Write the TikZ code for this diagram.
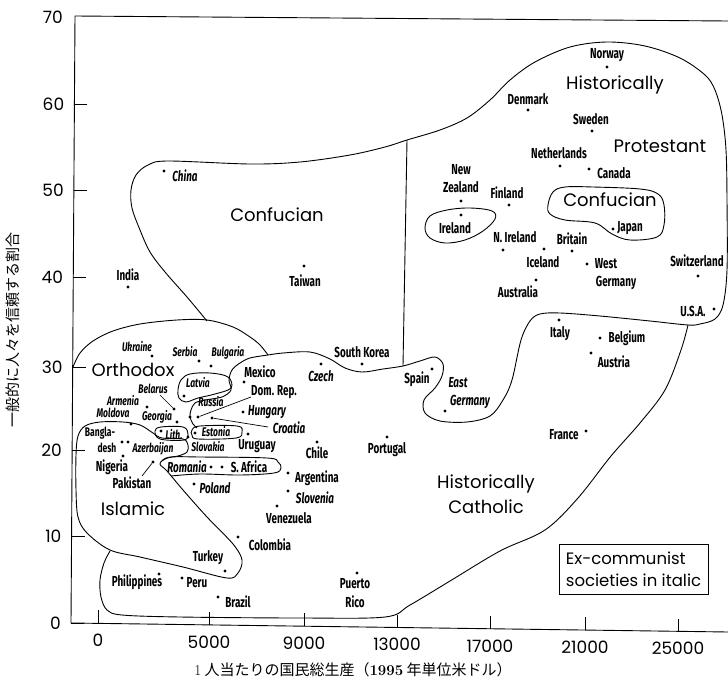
\documentclass[tikz,border=0pt]{standalone}
\usepackage{fontspec}
\newfontfamily\labfont[FakeStretch=0.68]{Fira Sans}
\newfontfamily\regfont{Poppins}
\newfontfamily\jpfont{Noto Sans CJK JP}
\tikzset{
 lab/.style={inner sep=0pt, font=\labfont\bfseries\fontsize{14.5}{15}\selectfont},
 labi/.style={inner sep=0pt, font=\labfont\bfseries\itshape\fontsize{14.5}{15}\selectfont},
 slab/.style={inner sep=0pt, font=\labfont\bfseries\fontsize{12.5}{13}\selectfont},
 slabi/.style={inner sep=0pt, font=\labfont\bfseries\itshape\fontsize{12.5}{13}\selectfont},
 pt/.style={circle, fill=black, inner sep=0pt, minimum size=3.2pt},
 reg/.style={inner sep=0pt, font=\regfont\fontsize{18}{18}\selectfont},
 bnd/.style={line width=0.9pt, line join=round},
 ptr/.style={line width=0.7pt},
 num/.style={inner sep=0pt, font=\regfont\fontsize{17}{17}\selectfont},
 jp/.style={inner sep=0pt, font=\jpfont\fontsize{15}{15}\selectfont},
}
\begin{document}
\begin{tikzpicture}[x=1pt,y=-1pt]
\fill[white] (0,0) rectangle (728,688);
\useasboundingbox (0,0) rectangle (728,688);
% axes
\coordinate (tr) at (728,21);
\coordinate (tl) at (75,16);
\coordinate (bl) at (71,623);
\coordinate (br) at (728,632);
\draw[line width=0.9pt] (tr) -- (tl) -- (bl) -- (br);
\node[num, anchor=east] (y70) at (63,17) {70};
\foreach \v/\yy/\xx in {60/104/74.4, 50/190/73.9, 40/277/73.3, 30/367/72.7, 20/450/72.1, 10/536/71.6, 0/623/71}{
  \draw[line width=0.8pt] (\xx,\yy) -- ++(13,0);
  \node[num, anchor=east] (y\v) at (\xx-10,\yy) {\v};
}
\foreach \v/\xx/\yy in {0/98/623.3, 5000/209/625, 9000/304/626.3, 13000/397/627.6, 17000/490/629, 21000/585/630.3, 25000/678/631.6}{
  \draw[line width=0.8pt] (\xx,\yy) -- ++(0,-13);
  \node[num] (x\v) at (\xx,\yy+17) {\v};
}
\node[jp, rotate=90] (ylab) at (13,330) {一般的に人々を信頼する割合};
\node[jp] (xlab) at (353,670) {{\rmfamily 1} 人当たりの国民総生産（{\rmfamily\bfseries 1995} 年単位米ドル）};

% ---------- boundaries ----------
% outer: Confucian + Protestant + bump + Catholic/Confucian border
\draw[bnd] plot[smooth, tension=0.55] coordinates {
 (207,321) (187,297) (165,272) (150,252) (140,230) (132,208) (131,190) (136,175) (148,165) (168,161)
 (250,164) (300,162) (350,155) (385,147) (407,140) (440,130) (467,118) (490,100) (510,80) (535,62)
 (570,47) (607,42) (645,46) (680,58) (705,75) (715,90) (722,115) (726,150) (727,200) (727,270)
 (723,305) (715,319) (700,324) (688,325) (650,321) (600,316) (560,313) (540,314) (530,321)
 (521,340) (512,380) (503,400) (490,416) (467,422) (440,421) (425,413) (424,400) (435,388)
 (442,376) (443,364) (435,357) (420,361) (403,366) (383,369) (362,372) (345,368) (330,359)
 (310,352) (283,353) (268,355)};
% vertical separator
\coordinate (vs1) at (407,140);
\coordinate (vs2) at (403,366);
\draw[bnd] (vs1) -- (vs2);
% Orthodox top
\draw[bnd] plot[smooth, tension=0.55] coordinates {
 (73,367) (80,353) (93,341) (113,331) (140,324) (177,320) (207,320) (233,327) (250,337) (260,345) (268,355)};
% Mexico blob + Russia tentacle
\draw[bnd] plot[smooth, tension=0.55] coordinates {
 (268,355) (250,358) (240,363) (232,370) (229,380) (231,390) (222,397) (205,400) (195,403) (191,410) (190,417) (193,424) (197,428)};
% Latvia loop
\draw[bnd] plot[smooth cycle, tension=0.6] coordinates {
 (178,390) (181,380) (190,374) (210,373) (228,377) (231,388) (215,394) (198,398) (186,402) (179,398)};
% Estonia loop
\draw[bnd] plot[smooth cycle, tension=0.6] coordinates {
 (192,430) (200,426) (237,426) (242,432) (236,438) (198,439) (192,435)};
% Lith loop
\draw[bnd] plot[smooth cycle, tension=0.6] coordinates {
 (155,431) (161,427) (183,427) (188,434) (184,440) (160,439)};
% Islamic region
\draw[bnd] plot[smooth cycle, tension=0.55] coordinates {
 (110,550) (87,533) (78,517) (76,490) (76,455) (78,436) (85,426) (100,422) (123,422) (140,425)
 (153,433) (162,438) (183,439) (188,445) (187,452) (178,456) (166,458) (160,464) (167,471)
 (183,490) (207,517) (233,544) (242,560) (238,573) (227,578) (183,567) (140,557)};
% Romania loop
\draw[bnd] plot[smooth, tension=0.6] coordinates {
 (162,461) (172,457) (200,457) (267,458) (278,462) (281,468) (274,473) (240,475) (200,474) (171,476)};
% Latin America / Catholic lower border
\draw[bnd] plot[smooth, tension=0.55] coordinates {
 (110,551) (104,563) (100,580) (101,597) (107,610) (122,615) (180,617) (300,618) (385,617)
 (410,605) (450,581) (500,551) (545,530) (578,498) (611,456) (640,423) (665,390) (681,350) (688,325)};
% small Confucian loop
\draw[bnd] plot[smooth cycle, tension=0.6] coordinates {
 (548,205) (553,192) (565,187) (593,187) (640,189) (658,194) (664,205) (664,225) (657,237)
 (630,240) (612,234) (595,223) (565,220) (550,214)};
% Ireland loop
\draw[bnd] plot[smooth cycle, tension=0.6] coordinates {
 (425,228) (430,216) (447,210) (470,208) (492,211) (495,219) (483,231) (465,240) (445,243) (430,238)};

% ---------- region names ----------
\node[reg] (rHist) at (615,85) {Historically};
\node[reg] (rProt) at (660,146) {Protestant};
\node[reg] (rConf2) at (610,200) {Confucian};
\node[reg] (rConf) at (277,215) {Confucian};
\node[reg] (rOrth) at (133,370) {Orthodox};
\node[reg] (rIsl) at (133,509) {Islamic};
\node[reg] (rCat1) at (486,484) {Historically};
\node[reg] (rCat2) at (486,507) {Catholic};
\node[draw, line width=0.8pt, align=left, inner xsep=6pt, inner ysep=4pt,
      font=\regfont\fontsize{16.5}{22}\selectfont, minimum width=149pt, minimum height=50pt]
      (legend) at (633.5,569) {Ex-communist\\societies in italic};

% ---------- Protestant area ----------
\node[lab] (nNorway) at (607,55) {Norway}; \node[pt] (dNorway) at (607,67) {};
\node[lab] (nDenmark) at (528,99) {Denmark}; \node[pt] (dDenmark) at (528,110) {};
\node[lab] (nSweden) at (591,119) {Sweden}; \node[pt] (dSweden) at (592,131) {};
\node[lab] (nNeth) at (559,153) {Netherlands}; \node[pt] (dNeth) at (560,166) {};
\node[lab] (nCanada) at (614,173) {Canada}; \node[pt] (dCanada) at (589,169) {};
\node[lab] (nNew) at (461,170) {New}; \node[lab] (nZeal) at (461,187) {Zealand}; \node[pt] (dNZ) at (461,201) {};
\node[lab] (nFinland) at (507,193) {Finland}; \node[pt] (dFinland) at (509,205) {};
\node[lab] (nIreland) at (455,228) {Ireland}; \node[pt] (dIreland) at (461,215) {};
\node[lab] (nJapan) at (630,228) {Japan}; \node[pt] (dJapan) at (613,229) {};
\node[lab] (nNIre) at (515,237) {N. Ireland}; \node[pt] (dNIre) at (503,250) {};
\node[lab] (nBritain) at (572,239) {Britain}; \node[pt] (dBritain) at (572,251) {};
\node[lab] (nIceland) at (543,262) {Iceland}; \node[pt] (dIceland) at (544,249) {};
\node[lab] (nWest) at (606,264) {West}; \node[lab] (nWGer) at (616,283) {Germany}; \node[pt] (dWGer) at (587,264) {};
\node[lab] (nSwitz) at (697,261) {Switzerland}; \node[pt] (dSwitz) at (698,276) {};
\node[lab] (nAustralia) at (518,292) {Australia}; \node[pt] (dAustralia) at (536,280) {};
\node[lab] (nUSA) at (693,311) {U.S.A.}; \node[pt] (dUSA) at (714,309) {};
% ---------- Catholic right ----------
\node[lab] (nItaly) at (560,334) {Italy}; \node[pt] (dItaly) at (559,320) {};
\node[lab] (nBelgium) at (627,338) {Belgium}; \node[pt] (dBelgium) at (600,338) {};
\node[lab] (nAustria) at (614,362) {Austria}; \node[pt] (dAustria) at (591,353) {};
\node[lab] (nFrance) at (564,435) {France}; \node[pt] (dFrance) at (586,431) {};
\node[lab] (nSpain) at (417,379) {Spain}; \node[pt] (dSpain) at (432,369) {};
\node[labi] (nEast) at (458,383) {East}; \node[labi] (nEGer) at (470,402) {Germany}; \node[pt] (dEGer) at (445,411) {};
\node[lab] (nPortugal) at (387,450) {Portugal}; \node[pt] (dPortugal) at (387,437) {};
\node[lab] (nPuerto) at (355,584) {Puerto}; \node[lab] (nRico) at (355,602) {Rico}; \node[pt] (dPR) at (357,573) {};
% ---------- Confucian ----------
\node[lab] (nSKorea) at (362,352) {South Korea}; \node[pt] (dSKorea) at (362,364) {};
\node[labi] (nCzech) at (321,376) {Czech}; \node[pt] (dCzech) at (321,364) {};
\node[lab] (nTaiwan) at (305,281) {Taiwan}; \node[pt] (dTaiwan) at (304,266) {};
\node[labi] (nChina) at (185,176) {China}; \node[pt] (dChina) at (164,171) {};
\node[lab] (nIndia) at (128,275) {India}; \node[pt] (dIndia) at (128,287) {};
% ---------- Latin America etc ----------
\node[lab] (nChile) at (317,453) {Chile}; \node[pt] (dChile) at (317,442) {};
\node[lab] (nArg) at (317,478) {Argentina}; \node[pt] (dArg) at (288,473) {};
\node[labi] (nSlovenia) at (315,498) {Slovenia}; \node[pt] (dSlovenia) at (288,491) {};
\node[lab] (nVen) at (289,518) {Venezuela}; \node[pt] (dVen) at (277,506) {};
\node[lab] (nCol) at (270,545) {Colombia}; \node[pt] (dCol) at (238,537) {};
\node[lab] (nBrazil) at (238,602) {Brazil}; \node[pt] (dBrazil) at (218,597) {};
\node[lab] (nPeru) at (197,583) {Peru}; \node[pt] (dPeru) at (182,578) {};
\node[lab] (nPhil) at (137,582) {Philippines}; \node[pt] (dPhil) at (159,574) {};
\node[lab] (nTurkey) at (208,558) {Turkey}; \node[pt] (dTurkey) at (225,571) {};
\node[labi] (nPoland) at (215,488) {Poland}; \node[pt] (dPoland) at (194,484) {};
\node[labi] (nRomania) at (187,467) {Romania}; \node[pt] (dRomania) at (211,467) {};
\node[pt] (dSAfr) at (222,467) {}; \node[lab] (nSAfr) at (249,467) {S. Africa};
% ---------- Islamic ----------
\node[lab] (nNigeria) at (112,467) {Nigeria}; \node[pt] (dNigeria) at (123,456) {};
\node[lab] (nPak) at (132,483) {Pakistan}; \node[pt] (dPak) at (153,462) {};
\coordinate (pPak) at (142,476);
\draw[ptr] (pPak) -- (dPak);
\node[slab] (nBang1) at (100,433) {Bangla-}; \node[slab] (nBang2) at (107,448) {desh};
\node[pt] (dBang) at (122,442) {}; \node[pt] (dAzer) at (128,442) {};
\node[slabi] (nAzer) at (153,449) {Azerbaijan};
% ---------- central cluster ----------
\node[lab] (nMexico) at (260,372) {Mexico}; \node[pt] (dMexico) at (244,382) {};
\node[lab] (nDomRep) at (274,392) {Dom. Rep.}; \node[pt] (dDomRep) at (198,417) {};
\coordinate (pDomRep) at (251,397);
\draw[ptr] (dDomRep) -- (pDomRep);
\node[labi] (nHungary) at (267,412) {Hungary}; \node[pt] (dHungary) at (243,412) {};
\node[labi] (nCroatia) at (289,428) {Croatia}; \node[pt] (dCroatia) at (212,418) {};
\coordinate (pCroatia) at (268,427);
\draw[ptr] (dCroatia) -- (pCroatia);
\node[lab] (nUruguay) at (257,446) {Uruguay}; \node[pt] (dUruguay) at (248,434) {};
\node[slabi] (nSerbia) at (185,352) {Serbia}; \node[pt] (dSerbia) at (199,361) {};
\node[slabi] (nBulgaria) at (228,353) {Bulgaria}; \node[pt] (dBulgaria) at (211,366) {};
\node[slabi] (nUkraine) at (137,347) {Ukraine}; \node[pt] (dUkraine) at (152,356) {};
\node[slabi] (nLatvia) at (198,383) {Latvia}; \node[pt] (dLatvia) at (184,396) {};
\node[slabi] (nBelarus) at (153,389) {Belarus}; \node[pt] (dBelarus) at (174,409) {};
\coordinate (pBelarus) at (160,395);
\draw[ptr] (pBelarus) -- (dBelarus);
\node[slabi] (nRussia) at (211,402) {Russia}; \node[pt] (dRussia) at (190,417) {};
\node[slabi] (nArmenia) at (123,401) {Armenia}; \node[pt] (dArmenia) at (147,407) {};
\node[slabi] (nMoldova) at (113,413) {Moldova}; \node[pt] (dMoldova) at (131,424) {};
\node[slabi] (nGeorgia) at (157,417) {Georgia}; \node[pt] (dGeorgia) at (177,422) {};
\node[slabi] (nLith) at (174,435) {Lith.}; \node[pt] (dLith) at (161,431) {};
\node[slabi] (nEstonia) at (216,432) {Estonia}; \node[pt] (dEstonia) at (195,433) {};
\node[slabi] (nSlovakia) at (208,447) {Slovakia}; \node[pt] (dSlovakia) at (188,437) {};
\end{tikzpicture}
\end{document}
